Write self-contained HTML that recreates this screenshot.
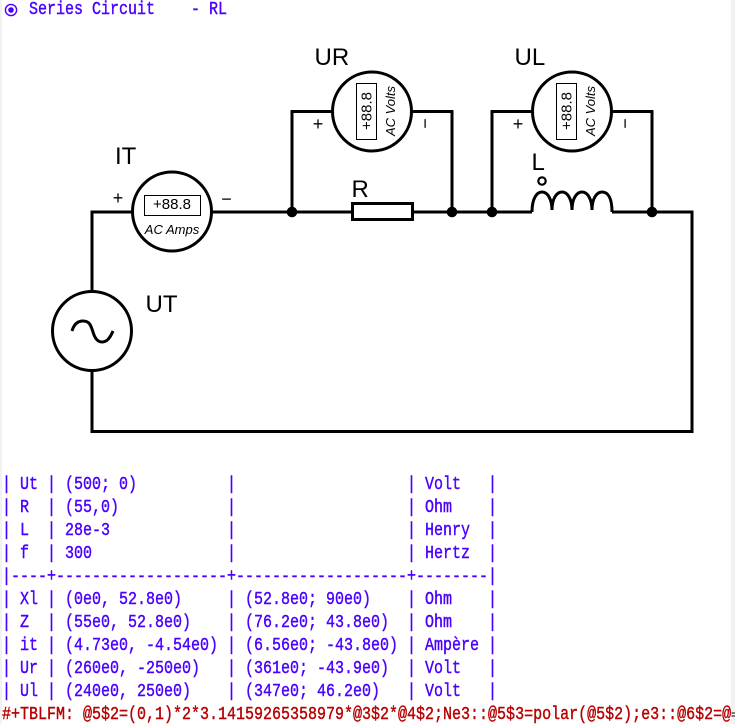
<!DOCTYPE html>
<html lang="en"><head><meta charset="utf-8"><title>Series Circuit - RL</title>
<style>
html,body{margin:0;padding:0;background:#fff}
#p{position:relative;width:735px;height:724px;overflow:hidden;background:#fff}
svg{position:absolute;left:0;top:0}
.l{position:absolute;left:2px;margin:0;white-space:pre;font:18px/23px "Liberation Mono",monospace;color:#4a00ff;height:23px;transform:scaleX(.8333);transform-origin:0 0;-webkit-text-stroke:.4px currentColor}
.r{color:#b80000;width:875px;overflow:hidden}
.f{position:absolute;top:0;height:724px;background:#f2f2f2}
</style></head><body><div id="p">
<div class="f" style="left:0;width:2px"></div>
<div class="f" style="left:731px;width:4px"></div>
<svg width="735" height="724" viewBox="0 0 735 724" font-family="'Liberation Sans',sans-serif">
<circle cx="11" cy="10" r="5.6" fill="none" stroke="#4a00ff" stroke-width="1.4"/>
<circle cx="11" cy="10" r="2.8" fill="#4a00ff"/>
<g fill="none" stroke="#000" stroke-width="3">
<path d="M92 291V212H132M212 212H352M412 212H532M612 212H692V431.5H92V371"/>
<path d="M292 212V111.5H332M412 111.5H452V212M492 212V111.5H532M612 111.5H652V212"/>
<rect x="352.5" y="203.5" width="60" height="16"/>
<path d="M532 212C532 198 537 192 542 192C548 192 552 200 552 210C552 198 557 192 562 192C568 192 572 200 572 210C572 198 577 192 582 192C588 192 592 200 592 210C592 198 597 192 602 192C608 192 612 198 612 212"/>
<circle cx="172" cy="211.5" r="39.5"/>
<circle cx="372" cy="111.5" r="39.5"/>
<circle cx="572" cy="111.5" r="39.5"/>
<circle cx="92" cy="331" r="39.5"/>
<path d="M72 331C74 324 78 321 83 321C90 321 91 326 93 332C95 339 98 342 102 342C107 342 110 338 113 331"/>
</g>
<g fill="#000"><circle cx="292" cy="212" r="5.3"/><circle cx="452" cy="212" r="5.3"/><circle cx="492" cy="212" r="5.3"/><circle cx="652" cy="212" r="5.3"/></g>
<circle cx="542" cy="181" r="3.7" fill="#fff" stroke="#000" stroke-width="2.2"/>
<g fill="none" stroke="#000" stroke-width="1">
<rect x="144.5" y="195.5" width="56" height="20"/>
<rect x="356.5" y="83.5" width="20" height="56"/>
<rect x="556.5" y="83.5" width="20" height="56"/>
</g>
<g font-size="24" fill="#000">
<text x="314.5" y="65">UR</text><text x="514.5" y="65">UL</text><text x="115" y="164">IT</text><text x="145.5" y="312">UT</text><text x="351.5" y="197">R</text><text x="531.5" y="170">L</text>
</g>
<g fill="#000" font-size="15">
<text x="172" y="209" text-anchor="middle">+88.8</text>
<text transform="translate(371.5 111) rotate(-90)" text-anchor="middle">+88.8</text>
<text transform="translate(571.5 111) rotate(-90)" text-anchor="middle">+88.8</text>
</g>
<g fill="#000" font-size="18">
<text x="118" y="204" text-anchor="middle">+</text>
<text x="226.5" y="205" text-anchor="middle">−</text>
<text x="318" y="130" text-anchor="middle">+</text>
<text x="518" y="130" text-anchor="middle">+</text>
<text transform="translate(431 123.5) rotate(-90)" text-anchor="middle">−</text>
<text transform="translate(631 123.5) rotate(-90)" text-anchor="middle">−</text>
</g>
<g fill="#000" font-size="13" font-style="italic">
<text x="172" y="234" text-anchor="middle">AC Amps</text>
<text transform="translate(395 111) rotate(-90)" text-anchor="middle">AC Volts</text>
<text transform="translate(595 111) rotate(-90)" text-anchor="middle">AC Volts</text>
</g>
<path d="M731.5 713H735M731.5 716H735" stroke="#000" stroke-width="1"/>
</svg>
<div class="l" style="top:-1px">   Series Circuit    - RL</div>
<div class="l" style="top:474px">| Ut | (500; 0)          |                   | Volt   |</div>
<div class="l" style="top:497px">| R  | (55,0)            |                   | Ohm    |</div>
<div class="l" style="top:520px">| L  | 28e-3             |                   | Henry  |</div>
<div class="l" style="top:543px">| f  | 300               |                   | Hertz  |</div>
<div class="l" style="top:566px">|----+-------------------+-------------------+--------|</div>
<div class="l" style="top:589px">| Xl | (0e0, 52.8e0)     | (52.8e0; 90e0)    | Ohm    |</div>
<div class="l" style="top:612px">| Z  | (55e0, 52.8e0)    | (76.2e0; 43.8e0)  | Ohm    |</div>
<div class="l" style="top:635px">| it | (4.73e0, -4.54e0) | (6.56e0; -43.8e0) | Ampère |</div>
<div class="l" style="top:658px">| Ur | (260e0, -250e0)   | (361e0; -43.9e0)  | Volt   |</div>
<div class="l" style="top:681px">| Ul | (240e0, 250e0)    | (347e0; 46.2e0)   | Volt   |</div>
<div class="l r" style="top:704px">#+TBLFM: @5$2=(0,1)*2*3.14159265358979*@3$2*@4$2;Ne3::@5$3=polar(@5$2);e3::@6$2=@3$2*@5$2</div>
</div></body></html>
